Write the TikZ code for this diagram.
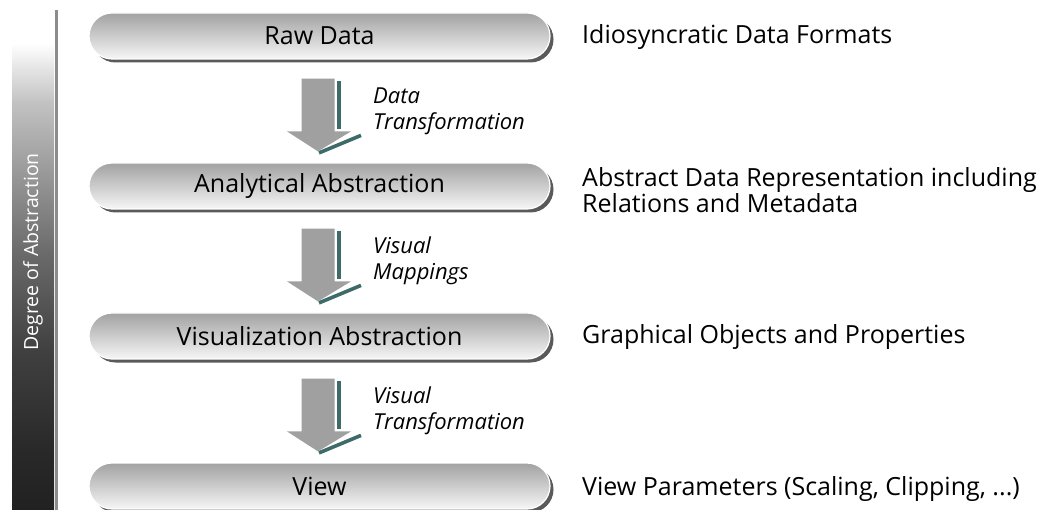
\documentclass[tikz,border=0pt]{standalone}
\usepackage{fontspec}
\setmainfont{Open Sans}
\usetikzlibrary{calc,shadows}

\definecolor{pilltop}{HTML}{A2A2A2}
\definecolor{pillbot}{HTML}{F6F6F6}
\definecolor{pillshadow}{HTML}{5A5A5A}
\definecolor{arrowgray}{HTML}{A0A0A0}
\definecolor{arrowedge}{HTML}{3E6A6A}
\definecolor{railgray}{HTML}{8C8C8C}

% dark at the bottom, fading to white towards the top
\pgfdeclareverticalshading{barshade}{100bp}{%
  color(0bp)=(black!87); color(25bp)=(black!87); color(31bp)=(black!84);
  color(41bp)=(black!75); color(51bp)=(black!58); color(66bp)=(black!24);
  color(72bp)=(white); color(75bp)=(white); color(100bp)=(white)}

\tikzset{
  pill/.style={rectangle, rounded corners=23pt, minimum width=461pt,
    minimum height=46pt, inner sep=0pt, top color=pilltop, bottom color=pillbot,
    draw=white, line width=1.2pt,
    general shadow={fill=pillshadow, shadow xshift=3.5pt, shadow yshift=-3.5pt},
    font=\fontsize{25}{28}\selectfont},
  desc/.style={anchor=west, align=left, inner sep=0pt,
    font=\fontsize{25}{26}\selectfont},
  steplabel/.style={anchor=west, align=left, inner sep=0pt,
    font=\fontsize{22}{26}\selectfont\itshape},
  blockarrow/.style={fill=arrowgray, draw=none},
  arrowrim/.style={draw=arrowedge, line width=3.6pt},
}

\begin{document}
\begin{tikzpicture}[x=1pt, y=-1pt]
\useasboundingbox (0,0) rectangle (1057,510);

% abstraction scale on the left
\node[rectangle, minimum width=42pt, minimum height=497pt, inner sep=0pt,
      shading=barshade, anchor=north west] (scale) at (12,13) {};
\node[rotate=90, text=white, font=\fontsize{19.5}{22}\selectfont] (scalelabel)
  at (33,252) {Degree of Abstraction};
\draw[railgray, line width=2.6pt] (56.5,10) -- (56.5,512);

% stages
\node[pill] (raw) at (319.5,36)  {Raw Data};
\node[pill] (ana) at (319.5,186) {Analytical Abstraction};
\node[pill] (vis) at (319.5,336) {Visualization Abstraction};
\node[pill] (view) at (319.5,486) {View};

% descriptions
\node[desc] (rawd)  at (582,37)  {Idiosyncratic Data Formats};
\node[desc] (anad)  at (582,190) {Abstract Data Representation including\\Relations and Metadata};
\node[desc] (visd)  at (582,337) {Graphical Objects and Properties};
\node[desc] (viewd) at (582,489) {View Parameters (Scaling, Clipping, ...)};

% transitions between stages
\foreach \a/\b/\txt in {raw/ana/{Data\\Transformation},
                        ana/vis/{Visual\\Mappings},
                        vis/view/{Visual\\Transformation}} {
  \coordinate (s) at ($(\a.south)+(-1.5,19)$);
  \coordinate (t) at ($(\b.north)+(-1.5,-11)$);
  \fill[blockarrow] ($(s)+(-16.5,0)$) -- ($(s)+(16.5,0)$)
    -- ($(t)+(16.5,-20)$) -- ($(t)+(33,-20)$) -- (t)
    -- ($(t)+(-31,-20)$) -- ($(t)+(-16.5,-20)$) -- cycle;
  \draw[arrowrim] ($(s)+(21,2)$) -- ($(t)+(21,-22)$);
  \draw[arrowrim] ($(t)+(1,1.5)$) -- ($(t)+(43,-16)$);
  \node[steplabel] at ($(s)!0.5!(t)+(55,-4)$) {\txt};
}
\end{tikzpicture}
\end{document}
